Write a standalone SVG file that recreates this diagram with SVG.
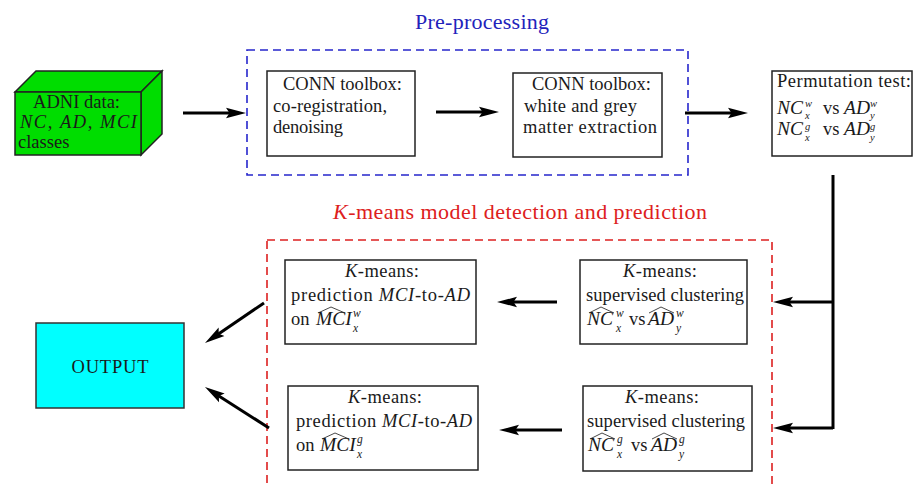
<svg xmlns="http://www.w3.org/2000/svg" width="913" height="488" viewBox="0 0 913 488">
<defs>
<marker id="ah" markerUnits="userSpaceOnUse" markerWidth="22" markerHeight="12" refX="10" refY="6" orient="auto">
<path d="M0,0.8 L20,6 L0,11.2 L3.5,6 Z" fill="#000"/>
</marker>
</defs>
<style>
text{font-family:"Liberation Serif","DejaVu Serif",serif;font-size:18.5px;fill:#1a1a1a}
.i{font-style:italic}
.m{font-style:italic;font-size:19.5px}
.s{font-size:11.5px;font-style:italic}
.s2{font-size:10.5px;font-style:italic}
.box{fill:#fff;stroke:#222;stroke-width:1.5}
.conn{stroke:#000;stroke-width:3;fill:none}
.arr{marker-end:url(#ah)}
.hat{fill:none;stroke:#333;stroke-width:0.9}
.blue{fill:none;stroke:#2626cc;stroke-width:1.6;stroke-dasharray:8,5}
.red{fill:none;stroke:#dd2020;stroke-width:1.6;stroke-dasharray:8,5}
.mid{text-anchor:middle}
</style>
<rect width="913" height="488" fill="#fff"/>

<g id="cluster-preprocessing">
<rect class="blue" x="247" y="50" width="441" height="125"/>
<text x="482" y="29" class="mid" style="font-size:22px;fill:#2222bb" textLength="134">Pre-processing</text>
</g>

<g id="cluster-kmeans">
<rect class="red" x="267" y="240" width="505" height="260"/>
<text x="333" y="219" style="font-size:22px;fill:#dd2020" textLength="374"><tspan class="i" style="fill:#dd2020">K</tspan>-means model detection and prediction</text>
</g>

<g id="adni">
<polygon points="15,92 36,71 162,71 141,92" fill="#00dd00" stroke="#222" stroke-width="1.5"/>
<polygon points="141,92 162,71 162,134 141,155" fill="#00dd00" stroke="#222" stroke-width="1.5"/>
<rect x="15" y="92" width="126" height="63" fill="#00dd00" stroke="#222" stroke-width="1.5"/>
<text x="33" y="108" textLength="87">ADNI data:</text>
<text x="20" y="128" textLength="117"><tspan class="i">NC</tspan>, <tspan class="i">AD</tspan>, <tspan class="i">MCI</tspan></text>
<text x="18" y="148">classes</text>
</g>

<g id="conn1">
<rect class="box" x="267" y="71" width="148" height="85"/>
<text x="283" y="90" textLength="119">CONN toolbox:</text>
<text x="273" y="112" textLength="114">co-registration,</text>
<text x="273" y="133" textLength="70">denoising</text>
</g>

<g id="conn2">
<rect class="box" x="513" y="73" width="149" height="84"/>
<text x="532" y="90" textLength="119">CONN toolbox:</text>
<text x="524" y="112" textLength="113">white and grey</text>
<text x="523" y="133" textLength="134">matter extraction</text>
</g>

<g id="permutation">
<rect class="box" x="772" y="71" width="140" height="85"/>
<text x="777" y="87" textLength="134">Permutation test:</text>
<text x="777" y="114" class="m">NC</text>
<text x="805" y="106.5" class="s2">w</text>
<text x="805" y="118.5" class="s2">x</text>
<text x="823" y="114">vs</text>
<text x="844" y="114" class="m">AD</text>
<text x="870" y="106.5" class="s2">w</text>
<text x="870" y="118.5" class="s2">y</text>
<text x="777" y="135" class="m">NC</text>
<text x="805" y="129.5" class="s2">g</text>
<text x="805" y="140.5" class="s2">x</text>
<text x="823" y="135">vs</text>
<text x="844" y="135" class="m">AD</text>
<text x="870" y="129.5" class="s2">g</text>
<text x="870" y="140.5" class="s2">y</text>
</g>

<g id="cluster-w">
<rect class="box" x="580" y="260" width="167" height="84"/>
<text x="660" y="277" class="mid" textLength="74"><tspan class="i">K</tspan>-means:</text>
<text x="586" y="301" textLength="158">supervised clustering</text>
<polyline class="hat" points="589,313 601,307 614,313"/>
<text x="587" y="325" class="m">NC</text>
<text x="616" y="317" class="s">w</text>
<text x="616" y="332" class="s">x</text>
<text x="629" y="325">vs</text>
<polyline class="hat" points="649,313 661,307 674,313"/>
<text x="648" y="325" class="m">AD</text>
<text x="676" y="317" class="s">w</text>
<text x="676" y="332" class="s">y</text>
</g>

<g id="cluster-g">
<rect class="box" x="583" y="386" width="169" height="85"/>
<text x="662" y="403" class="mid" textLength="74"><tspan class="i">K</tspan>-means:</text>
<text x="587" y="427" textLength="158">supervised clustering</text>
<polyline class="hat" points="590,439 602,433 615,439"/>
<text x="588" y="451" class="m">NC</text>
<text x="617" y="443" class="s">g</text>
<text x="617" y="458" class="s">x</text>
<text x="631" y="451">vs</text>
<polyline class="hat" points="652,439 664,433 677,439"/>
<text x="651" y="451" class="m">AD</text>
<text x="679" y="443" class="s">g</text>
<text x="679" y="458" class="s">y</text>
</g>

<g id="predict-w">
<rect class="box" x="285" y="260" width="191" height="84"/>
<text x="382" y="277" class="mid" textLength="74"><tspan class="i">K</tspan>-means:</text>
<text x="291" y="301" textLength="179">prediction <tspan class="i">MCI</tspan>-to-<tspan class="i">AD</tspan></text>
<text x="291" y="325">on</text>
<polyline class="hat" points="318,313 331,307 345,313"/>
<text x="316" y="325" class="m">MCI</text>
<text x="353" y="317" class="s">w</text>
<text x="353" y="332" class="s">x</text>
</g>

<g id="predict-g">
<rect class="box" x="288" y="386" width="190" height="84"/>
<text x="385" y="403" class="mid" textLength="74"><tspan class="i">K</tspan>-means:</text>
<text x="296" y="427" textLength="176">prediction <tspan class="i">MCI</tspan>-to-<tspan class="i">AD</tspan></text>
<text x="296" y="451">on</text>
<polyline class="hat" points="322,439 335,433 349,439"/>
<text x="320" y="451" class="m">MCI</text>
<text x="357" y="443" class="s">g</text>
<text x="357" y="458" class="s">x</text>
</g>

<g id="output">
<rect x="36" y="323" width="148" height="85" fill="#00ffff" stroke="#333" stroke-width="1.5"/>
<text x="110" y="373" class="mid" textLength="77">OUTPUT</text>
</g>

<g id="connectors">
<line class="conn arr" x1="183" y1="113" x2="236" y2="113"/>
<line class="conn arr" x1="436" y1="112" x2="489" y2="112"/>
<line class="conn arr" x1="685" y1="113" x2="738" y2="113"/>
<polyline class="conn" points="833,175 833,429"/>
<line class="conn arr" x1="833" y1="302" x2="783" y2="302"/>
<line class="conn arr" x1="833" y1="428" x2="783" y2="428"/>
<line class="conn arr" x1="557" y1="302" x2="507" y2="302"/>
<line class="conn arr" x1="562" y1="430" x2="509" y2="430"/>
<line class="conn arr" x1="264" y1="303" x2="213.3" y2="337.4"/>
<line class="conn arr" x1="269" y1="428" x2="213.4" y2="392.4"/>
</g>
</svg>
